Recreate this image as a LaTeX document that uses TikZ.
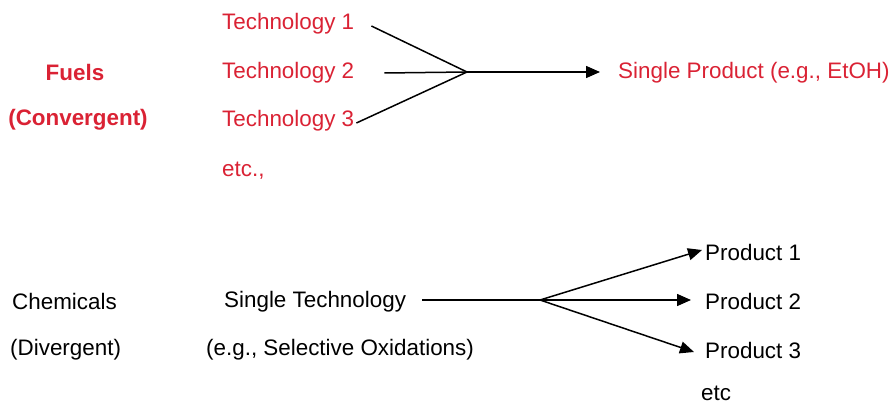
\documentclass[tikz,border=0pt]{standalone}
\usepackage{fontspec}
\setmainfont{Liberation Sans}
\usetikzlibrary{arrows.meta}
\definecolor{fuelred}{RGB}{218,34,52}
\tikzset{
  lbl/.style={anchor=west, inner sep=0pt, font=\fontsize{22.4}{26}\selectfont},
  redlbl/.style={lbl, text=fuelred},
  head/.style={anchor=center, inner sep=0pt, text=fuelred, font=\fontsize{22.4}{26}\selectfont\bfseries},
  link/.style={line width=1.5pt, black},
  flow/.style={link, -{Triangle[length=14pt, width=12pt]}}
}
\begin{document}
\begin{tikzpicture}[x=1pt, y=-1pt]
\useasboundingbox (0,0) rectangle (890,403);

% convergent route: many technologies, one fuel
\node[head] (fuels) at (75,72) {Fuels};
\node[head] (conv) at (78,120) {(Convergent)};
\node[redlbl] (t1) at (222,23.5) {Technology 1};
\node[redlbl] (t2) at (222,72.5) {Technology 2};
\node[redlbl] (t3) at (222,120.5) {Technology 3};
\node[redlbl] (etc1) at (222,170.5) {etc.,};
\node[redlbl] (sp) at (618,72.5) {Single Product (e.g., EtOH)};
\coordinate (j1) at (467,72);

\draw[link] ([xshift=17pt,yshift=-2.5pt]t1.east) -- (j1);
\draw[link] ([xshift=30pt,yshift=-0.5pt]t2.east) -- (j1);
\draw[link] ([xshift=2pt,yshift=-2.5pt]t3.east) -- (j1);
\draw[flow] (j1) -- ([xshift=-18pt,yshift=0.5pt]sp.west);

% divergent route: one technology, many chemicals
\node[lbl] (chem) at (12,301.5) {Chemicals};
\node[lbl] (div) at (10,350) {(Divergent)};
\node[lbl] (st) at (224,301.5) {Single Technology};
\node[lbl] (ex) at (206,349.5) {(e.g., Selective Oxidations)};
\node[lbl] (p1) at (705,252.5) {Product 1};
\node[lbl] (p2) at (705,301.5) {Product 2};
\node[lbl] (p3) at (705,350.5) {Product 3};
\node[lbl] (etc2) at (701,393) {etc};
\coordinate (j2) at (540,300);

\draw[link] ([xshift=16pt,yshift=1.5pt]st.east) -- (j2);
\draw[flow] (j2) -- ([xshift=-3pt,yshift=2.5pt]p1.west);
\draw[flow] (j2) -- ([xshift=-14pt,yshift=1.5pt]p2.west);
\draw[flow] (j2) -- ([xshift=-11pt,yshift=-1.5pt]p3.west);
\end{tikzpicture}
\end{document}
